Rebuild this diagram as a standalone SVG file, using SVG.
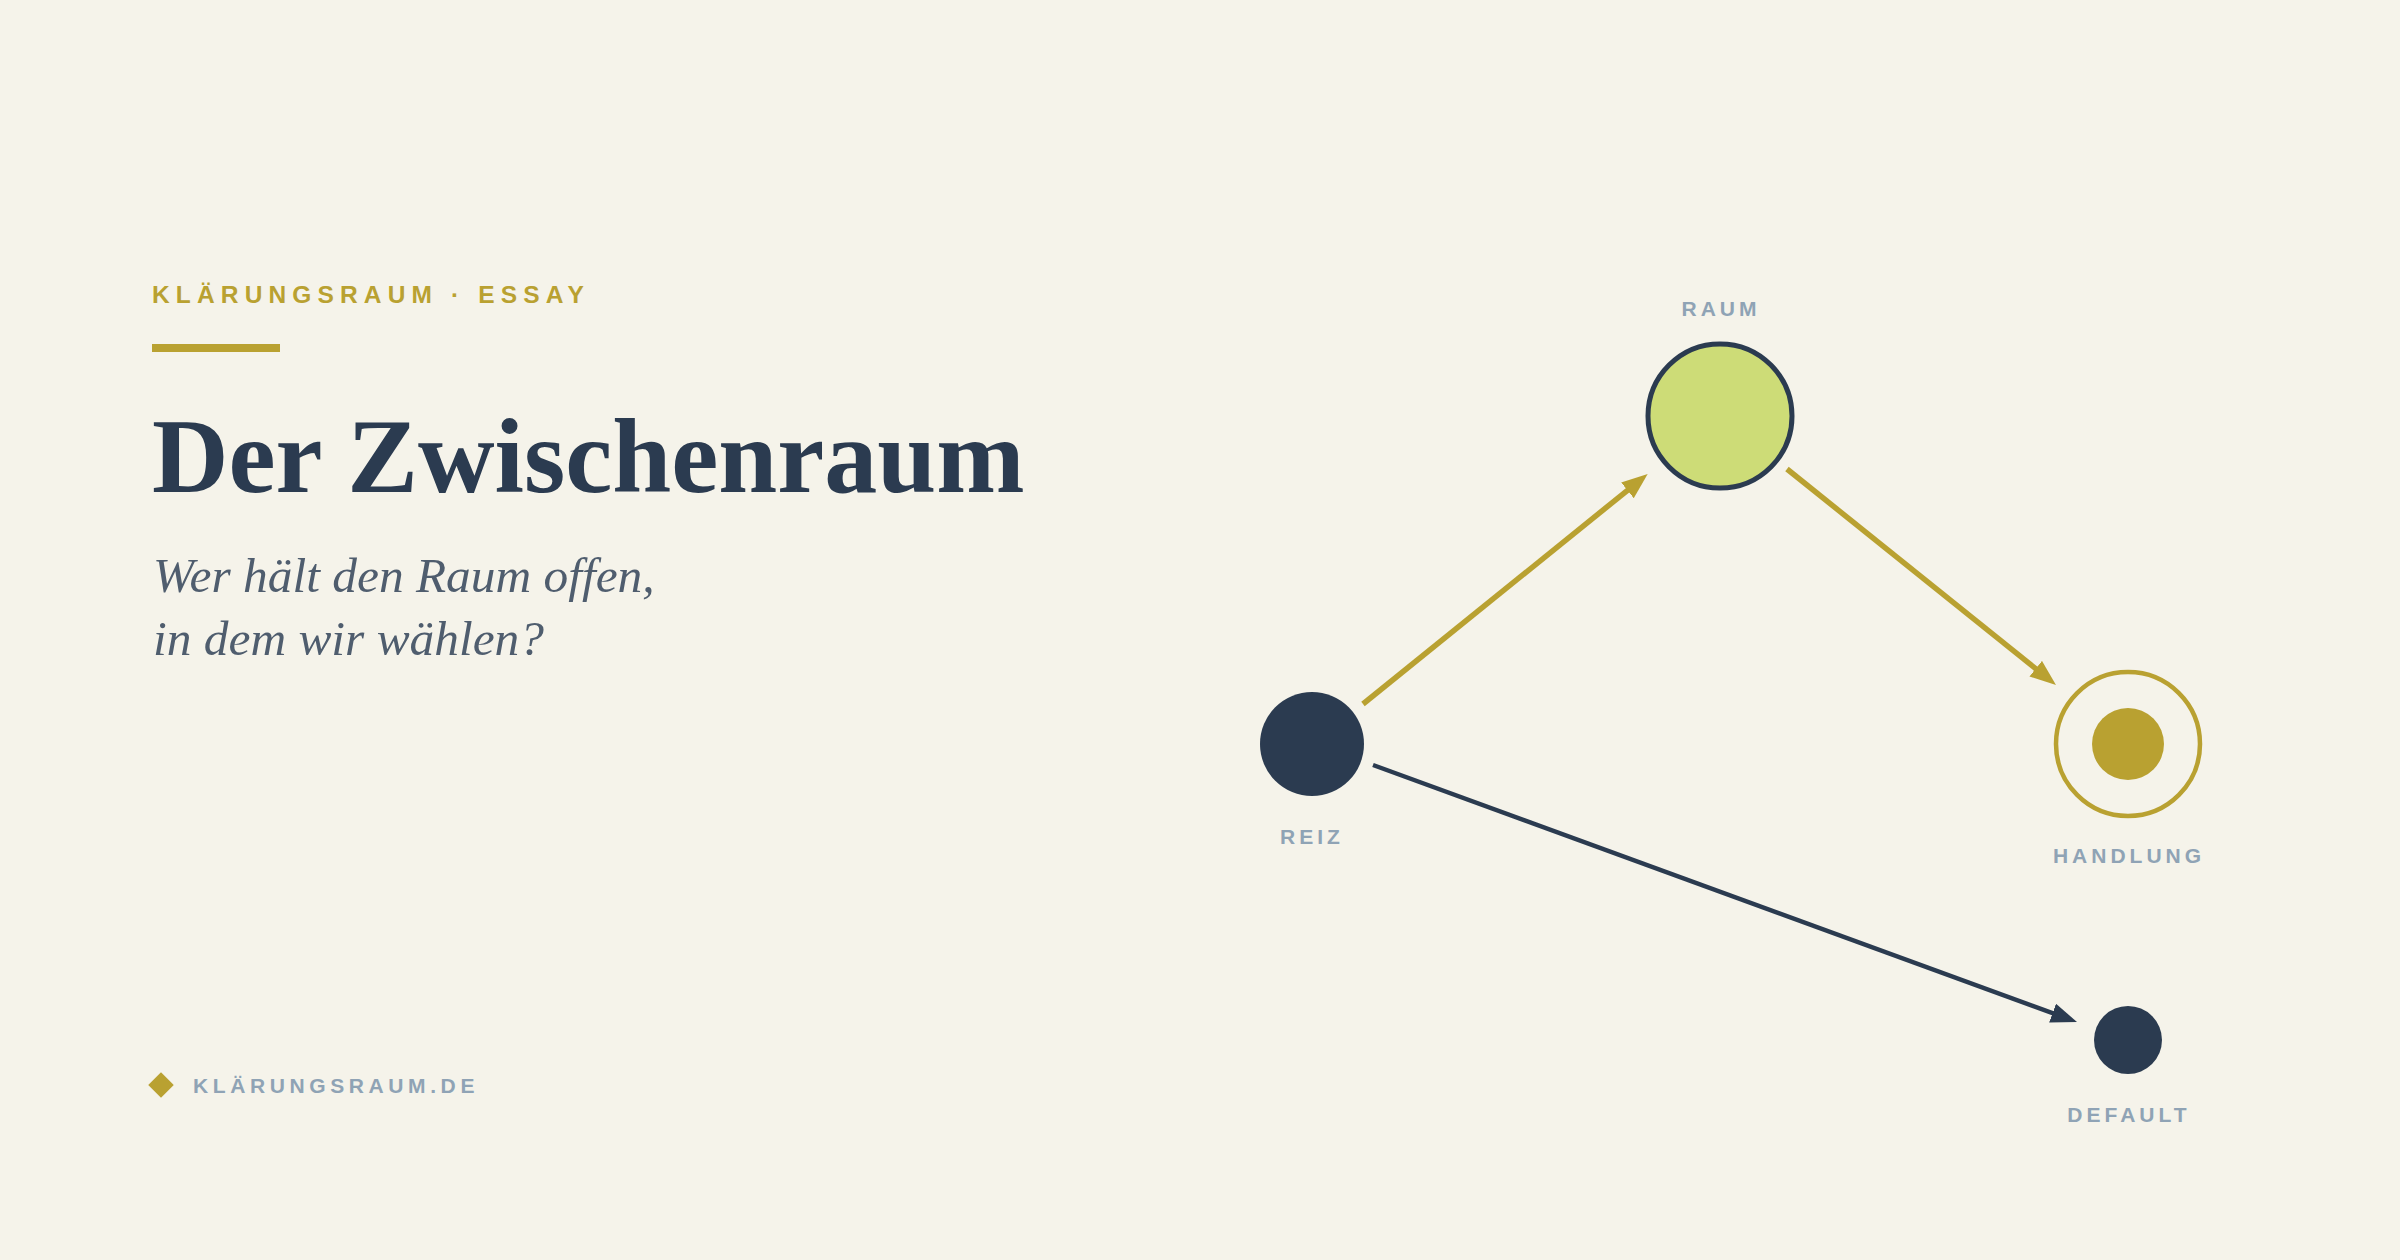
<svg xmlns="http://www.w3.org/2000/svg" width="2400" height="1260" viewBox="0 0 2400 1260">
  <style>
    .kicker { font-family: "Liberation Sans", Arial, sans-serif; font-weight: 700; font-size: 24.5px; letter-spacing: 6.15px; fill: #b9a131; }
    .title { font-family: "Liberation Serif", "Times New Roman", serif; font-weight: 700; font-size: 106px; fill: #2b3b50; }
    .sub { font-family: "Liberation Serif", "Times New Roman", serif; font-style: italic; font-size: 49.4px; fill: #4f5d6e; }
    .label { font-family: "Liberation Sans", Arial, sans-serif; font-weight: 700; font-size: 21px; letter-spacing: 4px; fill: #8fa3b5; text-anchor: middle; }
    .foot { font-family: "Liberation Sans", Arial, sans-serif; font-weight: 700; font-size: 21px; letter-spacing: 4.6px; fill: #8fa3b5; }
    .gold-line { stroke: #b9a131; stroke-width: 5.5; fill: none; }
    .dark-line { stroke: #2b3b50; stroke-width: 4.5; fill: none; }
  </style>
  <defs>
    <marker id="arrowGold" markerUnits="userSpaceOnUse" markerWidth="28" markerHeight="22" refX="16" refY="10" orient="auto" viewBox="0 0 28 22">
      <path d="M0,0 L26,10 L0,20 z" fill="#b9a131"/>
    </marker>
    <marker id="arrowDark" markerUnits="userSpaceOnUse" markerWidth="28" markerHeight="22" refX="16" refY="10" orient="auto" viewBox="0 0 28 22">
      <path d="M0,0 L26,10 L0,20 z" fill="#2b3b50"/>
    </marker>
  </defs>
  <rect width="2400" height="1260" fill="#f5f3ea"/>

  <g id="header">
    <text class="kicker" x="152" y="303">KLÄRUNGSRAUM · ESSAY</text>
    <rect x="152" y="344" width="128" height="8" fill="#b9a131"/>
    <text class="title" x="152" y="492">Der Zwischenraum</text>
    <text class="sub" x="153" y="592">Wer hält den Raum offen,</text>
    <text class="sub" x="153" y="655">in dem wir wählen?</text>
  </g>

  <g id="footer">
    <rect x="152" y="1076" width="18" height="18" fill="#b9a131" transform="rotate(45 161 1085)"/>
    <text class="foot" x="193" y="1093">KLÄRUNGSRAUM.DE</text>
  </g>

  <g id="connectors">
    <line class="gold-line" x1="1363" y1="704" x2="1639.9" y2="480.3" marker-end="url(#arrowGold)"/>
    <line class="gold-line" x1="1787" y1="469" x2="2048.2" y2="678.7" marker-end="url(#arrowGold)"/>
    <line class="dark-line" x1="1373" y1="765" x2="2067.6" y2="1018.6" marker-end="url(#arrowDark)"/>
  </g>

  <g id="node-reiz">
    <circle cx="1312" cy="744" r="52" fill="#2b3b50"/>
    <text class="label" x="1312" y="844">REIZ</text>
  </g>

  <g id="node-raum">
    <circle cx="1720" cy="416" r="72" fill="#cddc77" stroke="#2b3b50" stroke-width="5"/>
    <text class="label" x="1721" y="316">RAUM</text>
  </g>

  <g id="node-handlung">
    <circle cx="2128" cy="744" r="72" fill="none" stroke="#b9a131" stroke-width="4.5"/>
    <circle cx="2128" cy="744" r="36" fill="#b9a131"/>
    <text class="label" x="2129" y="863">HANDLUNG</text>
  </g>

  <g id="node-default">
    <circle cx="2128" cy="1040" r="34" fill="#2b3b50"/>
    <text class="label" x="2129" y="1122">DEFAULT</text>
  </g>
</svg>
